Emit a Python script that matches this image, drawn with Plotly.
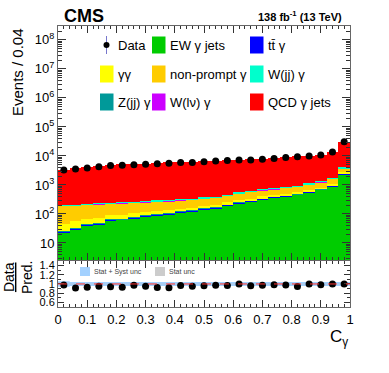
import plotly.graph_objects as go

# binning: 25 bins of width 0.04 in C_gamma
bin_edges = [i * 0.04 for i in range(26)]
bin_centers = [0.02 + i * 0.04 for i in range(25)]

data = [3300, 3550, 3870, 4200, 4650, 4800, 5000, 5150, 5430, 5600, 5900, 6000, 6250,
        6700, 6900, 7250, 7300, 7650, 8100, 8800, 9300, 10000, 10800, 13700, 31000]

ew_gjets = [23, 30, 40, 44, 60, 63, 71, 81, 91, 98, 112, 124, 148,
            152, 198, 235, 265, 322, 365, 408, 455, 540, 670, 870, 2330]
ttg = [1.4, 1.8, 2.4, 2.6, 3.5, 3.8, 4.3, 4.9, 5.5, 5.9, 6.7, 7.4, 8.9,
       9.1, 12, 14, 16, 19, 22, 24, 27, 32, 40, 52, 140]
zjjg = [0.9, 1.2, 1.6, 1.8, 2.4, 2.5, 2.8, 3.2, 3.6, 3.9, 4.5, 5, 6,
        6, 8, 9.4, 10.6, 13, 14.6, 16, 18, 22, 27, 35, 93]
gg = [19, 26, 25, 27, 25, 26, 27, 28, 27, 29, 28, 28, 27,
      33, 35, 40, 45, 48, 50, 52, 55, 60, 70, 80, 150]
nonprompt = [146, 135, 135, 144, 135, 139, 135, 138, 147, 140, 146, 143, 150,
             165, 170, 217, 238, 263, 265, 310, 320, 396, 453, 573, 1047]
wlvg = [4, 4, 4, 4, 4, 5, 5, 5, 5, 5, 6, 6, 7,
        7, 8, 10, 11, 13, 14, 16, 17, 21, 25, 32, 75]
wjjg = [13, 13, 14, 15, 15, 16, 16, 17, 19, 19, 20, 21, 23,
        25, 28, 35, 40, 46, 49, 56, 60, 72, 87, 110, 260]
qcd_gjets = [3160, 3690, 3940, 4180, 4700, 4910, 4890, 5140, 5600, 5790, 5790, 5980, 6140,
             6510, 6690, 6690, 6980, 7160, 7440, 8100, 8890, 8860, 9590, 11950, 26900]

# relative uncertainties for the ratio bands
syst_unc = [0.06, 0.045, 0.045, 0.045, 0.045, 0.045, 0.045, 0.045, 0.045, 0.045, 0.045, 0.045, 0.045,
            0.045, 0.045, 0.045, 0.045, 0.045, 0.045, 0.045, 0.045, 0.045, 0.045, 0.045, 0.045]
stat_unc = [0.006, 0.005, 0.005, 0.005, 0.005, 0.005, 0.005, 0.005, 0.005, 0.005, 0.005, 0.005, 0.005,
            0.005, 0.005, 0.005, 0.005, 0.005, 0.005, 0.005, 0.005, 0.005, 0.005, 0.005, 0.006]

x_ticks = [0, 0.1, 0.2, 0.3, 0.4, 0.5, 0.6, 0.7, 0.8, 0.9, 1]
x_ticklabels = ["0", "0.1", "0.2", "0.3", "0.4", "0.5", "0.6", "0.7", "0.8", "0.9", "1"]
y_ticks = [10, 1e2, 1e3, 1e4, 1e5, 1e6, 1e7, 1e8]
y_ticklabels = ["10"] + ["10<sup>%d</sup>" % e for e in range(2, 9)]
r_ticks = [0.6, 0.8, 1, 1.2, 1.4]
r_ticklabels = ["0.6", "0.8", "1", "1.2", "1.4"]

# stack from bottom to top
stack = [
    ("EW γ jets", ew_gjets, "#00cc00"),
    ("tt̄ γ", ttg, "#0000ff"),
    ("Z(jj) γ", zjjg, "#009999"),
    ("γγ", gg, "#ffff00"),
    ("non-prompt γ", nonprompt, "#ffcc00"),
    ("W(lν) γ", wlvg, "#cc00ff"),
    ("W(jj) γ", wjjg, "#00ffcc"),
    ("QCD γ jets", qcd_gjets, "#ff0000"),
]

FONT = "Liberation Sans, Arial, sans-serif"
fig = go.Figure()

for name, vals, col in stack:
    fig.add_trace(go.Bar(x=bin_centers, y=vals, width=0.04, marker=dict(color=col, line=dict(width=0)),
                         name=name, xaxis="x2", yaxis="y2", showlegend=False))

fig.add_trace(go.Scatter(x=bin_centers, y=data, mode="markers", xaxis="x2", yaxis="y2",
                         marker=dict(color="black", size=7),
                         error_y=dict(type="data", array=[d ** 0.5 for d in data], color="black",
                                      thickness=1, width=0),
                         showlegend=False))

# ratio pane
total = [sum(s[1][i] for s in stack) for i in range(25)]
ratio = [data[i] / total[i] for i in range(25)]


def band(unc, col):
    lo = [1 - u for u in unc]
    hi = [1 + u for u in unc]
    fig.add_trace(go.Scatter(x=bin_edges, y=lo + [lo[-1]], mode="lines", line=dict(width=0, shape="hv"),
                             xaxis="x", yaxis="y", showlegend=False, hoverinfo="skip"))
    fig.add_trace(go.Scatter(x=bin_edges, y=hi + [hi[-1]], mode="lines", line=dict(width=0, shape="hv"),
                             fill="tonexty", fillcolor=col, xaxis="x", yaxis="y", showlegend=False,
                             hoverinfo="skip"))


band(syst_unc, "rgba(153,204,255,0.9)")
band(stat_unc, "rgba(190,190,190,0.9)")

fig.add_shape(type="line", xref="x", yref="y", x0=0, x1=1, y0=1, y1=1,
              line=dict(color="#ff3333", width=1, dash="dash"))

fig.add_trace(go.Scatter(x=bin_centers, y=ratio, mode="markers", xaxis="x", yaxis="y",
                         marker=dict(color="black", size=7), showlegend=False))

# pixel helpers for the hand-made legend (plot area: x 58..350, y 26..307)
def px(x):
    return (x - 58) / 292.0


def py(y):
    return (307 - y) / 281.0


legend_rows = [
    [("Data", None), ("EW γ jets", "#00cc00"), ("tt̄ γ", "#0000ff")],
    [("γγ", "#ffff00"), ("non-prompt γ", "#ffcc00"), ("W(jj) γ", "#00ffcc")],
    [("Z(jj) γ", "#009999"), ("W(lν) γ", "#cc00ff"), ("QCD γ jets", "#ff0000")],
]
col_x = [100, 152, 250]
row_y = [45, 74, 102]
for r, row in enumerate(legend_rows):
    for c, (label, col) in enumerate(row):
        x0 = col_x[c]
        yc = row_y[r]
        if col is None:
            fig.add_shape(type="line", xref="paper", yref="paper", x0=px(x0 + 6.5), x1=px(x0 + 6.5),
                          y0=py(yc - 9), y1=py(yc + 9), line=dict(color="#7777cc", width=1))
            fig.add_shape(type="circle", xref="paper", yref="paper", x0=px(x0 + 3.5), x1=px(x0 + 9.5),
                          y0=py(yc - 3), y1=py(yc + 3), fillcolor="black", line=dict(width=0))
        else:
            fig.add_shape(type="rect", xref="paper", yref="paper", x0=px(x0), x1=px(x0 + 13.5),
                          y0=py(yc - 8.5), y1=py(yc + 8.5), fillcolor=col, line=dict(width=0))
        fig.add_annotation(x=px(x0 + 16), y=py(yc), xref="paper", yref="paper", text=label,
                           showarrow=False, xanchor="left", yanchor="middle",
                           font=dict(family=FONT, size=13, color="black"))

# ratio legend
for x0, col, label in [(80, "rgba(153,204,255,0.9)", "Stat + Syst unc"), (155, "#cccccc", "Stat unc")]:
    fig.add_shape(type="rect", xref="paper", yref="paper", x0=px(x0), x1=px(x0 + 10),
                  y0=py(276), y1=py(267), fillcolor=col, line=dict(width=0))
    fig.add_annotation(x=px(x0 + 12), y=py(271.5), xref="paper", yref="paper", text=label,
                       showarrow=False, xanchor="left", yanchor="middle",
                       font=dict(family=FONT, size=7, color="#444"))

# labels
fig.add_annotation(x=px(62), y=py(16), xref="paper", yref="paper", text="<b>CMS</b>", showarrow=False,
                   xanchor="left", yanchor="middle", font=dict(family=FONT, size=18, color="black"))
fig.add_annotation(x=px(344), y=py(16), xref="paper", yref="paper",
                   text="<b>138 fb<sup>-1</sup> (13 TeV)</b>", showarrow=False,
                   xanchor="right", yanchor="middle", font=dict(family=FONT, size=11, color="black"))
fig.add_annotation(x=px(17), y=py(72), xref="paper", yref="paper", text="Events / 0.04", showarrow=False,
                   textangle=-90, xanchor="center", yanchor="middle",
                   font=dict(family=FONT, size=15, color="black"))
fig.add_annotation(x=px(18), y=py(278), xref="paper", yref="paper", text="<u>Data</u><br>Pred.",
                   showarrow=False, textangle=-90, xanchor="center", yanchor="middle",
                   font=dict(family=FONT, size=14, color="black"))
fig.add_annotation(x=px(350), y=py(338), xref="paper", yref="paper", text="C<sub>γ</sub>",
                   showarrow=False, xanchor="right", yanchor="middle",
                   font=dict(family=FONT, size=17, color="black"))

axis_line = dict(showline=True, linecolor="#666", linewidth=1, mirror="ticks", showgrid=False,
                 zeroline=False, ticks="inside", tickcolor="#333")

fig.update_layout(
    width=389, height=373,
    margin=dict(l=58, r=39, t=26, b=66),
    paper_bgcolor="white", plot_bgcolor="white",
    barmode="stack", bargap=0,
    showlegend=False,
    font=dict(family=FONT, size=13, color="black"),
    xaxis=dict(domain=[0, 1], anchor="y", range=[0, 1], tickvals=x_ticks, ticktext=x_ticklabels,
               ticklen=7, minor=dict(ticks="inside", dtick=0.02, ticklen=3, tickcolor="#333"),
               tickfont=dict(size=13), automargin=False, **axis_line),
    yaxis=dict(domain=[0, 0.164], anchor="x", range=[0.5, 1.5], tickvals=r_ticks, ticktext=r_ticklabels,
               ticklen=6, minor=dict(ticks="inside", dtick=0.1, ticklen=3, tickcolor="#333"),
               tickfont=dict(size=11), automargin=False, **axis_line),
    xaxis2=dict(domain=[0, 1], anchor="y2", matches="x", range=[0, 1], showticklabels=False,
                tickvals=x_ticks, ticklen=7, minor=dict(ticks="inside", dtick=0.02, ticklen=3, tickcolor="#333"),
                automargin=False, **axis_line),
    yaxis2=dict(domain=[0.167, 1], anchor="x2", type="log", range=[0.41, 8.48], tickvals=y_ticks,
                ticktext=y_ticklabels, ticklen=8, tickfont=dict(size=13), automargin=False,
                minor=dict(ticks="inside", ticklen=4, tickcolor="#333",
                           tickvals=[k * 10 ** e for e in range(0, 9) for k in range(2, 10)]),
                **axis_line),
)

fig.write_html("out.html", config={"displayModeBar": False},
               post_script="document.body.style.margin='0';")
